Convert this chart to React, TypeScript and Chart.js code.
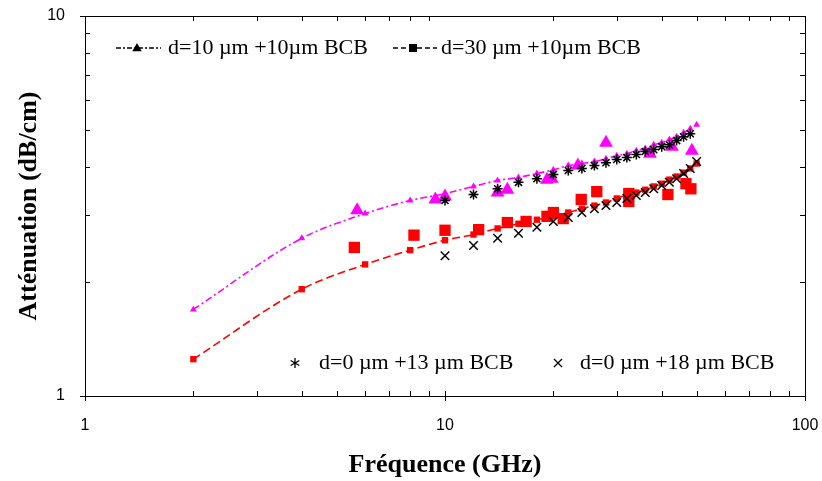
import React, { useEffect, useRef } from 'react';
import { Chart, registerables } from 'chart.js';

Chart.register(...registerables);

// ---- Data ----
const modelFreq = [2, 4, 6, 8, 10, 12, 14, 16, 18, 20, 22, 24, 26, 28, 30, 32, 34, 36, 38, 40, 42, 44, 46, 48, 50];
const model10um = [1.69, 2.60, 3.02, 3.27, 3.41, 3.56, 3.69, 3.76, 3.85, 3.94, 4.04, 4.09, 4.14, 4.21, 4.29, 4.34, 4.42, 4.48, 4.58, 4.64, 4.73, 4.81, 4.93, 5.05, 5.17];
const model30um = [1.25, 1.91, 2.22, 2.42, 2.57, 2.66, 2.76, 2.84, 2.91, 2.97, 3.04, 3.11, 3.17, 3.23, 3.31, 3.39, 3.43, 3.49, 3.56, 3.62, 3.71, 3.78, 3.87, 3.97, 4.09];

const meas10Freq = [5.7, 9.4, 10, 14.0, 14.9, 19.2, 19.8, 23.4, 28.0, 37.1, 42.7, 48.5];
const meas10Vals = [3.08, 3.29, 3.35, 3.43, 3.49, 3.71, 3.73, 4.04, 4.64, 4.34, 4.53, 4.42];

const meas30Freq = [5.6, 8.2, 10, 12.4, 14.9, 16.8, 19.2, 20.0, 21.3, 23.9, 26.4, 32.4, 32.4, 41.6, 46.7, 48.2];
const meas30Vals = [2.46, 2.65, 2.73, 2.74, 2.86, 2.88, 2.97, 3.04, 2.93, 3.29, 3.45, 3.41, 3.25, 3.39, 3.62, 3.51];

const star13Freq = [10, 12, 14, 16, 18, 20, 22, 24, 26, 28, 30, 32, 34, 36, 38, 40, 42, 44, 46, 48];
const star13Vals = [3.27, 3.39, 3.51, 3.65, 3.73, 3.83, 3.92, 3.97, 4.04, 4.11, 4.19, 4.24, 4.32, 4.40, 4.45, 4.53, 4.58, 4.70, 4.81, 4.90];

const cross18Freq = [10, 12, 14, 16, 18, 20, 22, 24, 26, 28, 30, 32, 34, 36, 38, 40, 42, 44, 46, 48, 50];
const cross18Vals = [2.34, 2.49, 2.60, 2.68, 2.78, 2.88, 2.95, 3.04, 3.11, 3.17, 3.23, 3.31, 3.37, 3.43, 3.51, 3.58, 3.65, 3.73, 3.85, 3.97, 4.14];

const xTickLabels = [1, 10, 100];
const yTickLabels = [1, 10];

const legendTop = ['d=10 \u00b5m +10\u00b5m BCB', 'd=30 \u00b5m +10\u00b5m BCB'];
const legendBottom = ['d=0 \u00b5m +13 \u00b5m BCB', 'd=0 \u00b5m +18 \u00b5m BCB'];

const MAGENTA = '#FF00FF';
const RED = '#FF0000';
const SERIF = '"Liberation Serif", "Times New Roman", serif';
const SANS = '"Liberation Sans", Arial, sans-serif';

const pts = (xs: number[], ys: number[]) => xs.map((x, i) => ({ x, y: ys[i] }));

function drawTri(ctx: CanvasRenderingContext2D, x: number, y: number, r: number) {
  ctx.beginPath();
  ctx.moveTo(x, y - r);
  ctx.lineTo(x + r * 0.95, y + r * 0.65);
  ctx.lineTo(x - r * 0.95, y + r * 0.65);
  ctx.closePath();
  ctx.fill();
}

const zeroPad = (s: any) => {
  s.paddingLeft = 0;
  s.paddingRight = 0;
  s.paddingTop = 0;
  s.paddingBottom = 0;
};

const framePlugin = {
  id: 'frameTicks',
  afterDraw(chart: any) {
    const ctx: CanvasRenderingContext2D = chart.ctx;
    const { left, right, top, bottom } = chart.chartArea;
    const xs = chart.scales.x;
    const ys = chart.scales.y;
    ctx.save();
    ctx.strokeStyle = '#000';
    ctx.lineWidth = 1;
    ctx.setLineDash([]);
    ctx.strokeRect(Math.round(left) + 0.5, Math.round(top) + 0.5, Math.round(right - left), Math.round(bottom - top));
    const minor = 5;
    ctx.beginPath();
    for (let d = 0; d <= 2; d++) {
      for (let m = 1; m <= 9; m++) {
        const v = m * Math.pow(10, d);
        if (v >= 1 && v <= 100) {
          const px = Math.round(xs.getPixelForValue(v)) + 0.5;
          if (m === 1) {
            ctx.moveTo(px, bottom + 5); ctx.lineTo(px, bottom - minor);
          } else {
            ctx.moveTo(px, bottom); ctx.lineTo(px, bottom - minor);
            ctx.moveTo(px, top); ctx.lineTo(px, top + minor);
          }
        }
        if (v >= 1 && v <= 10) {
          const py = Math.round(ys.getPixelForValue(v)) + 0.5;
          if (m === 1) {
            ctx.moveTo(left - 5, py); ctx.lineTo(left + minor, py);
          } else {
            ctx.moveTo(left, py); ctx.lineTo(left + minor, py);
            ctx.moveTo(right, py); ctx.lineTo(right - minor, py);
          }
        }
      }
    }
    ctx.stroke();

    // Legends
    ctx.fillStyle = '#000';
    ctx.strokeStyle = '#000';
    ctx.font = `22px ${SERIF}`;
    ctx.textBaseline = 'middle';
    ctx.textAlign = 'left';
    const ly = top + 32;
    // entry 1: dash-dot line with triangle
    ctx.lineWidth = 1.5;
    ctx.setLineDash([5, 2, 2, 2]);
    ctx.beginPath();
    ctx.moveTo(left + 31, ly); ctx.lineTo(left + 76, ly);
    ctx.stroke();
    ctx.setLineDash([]);
    drawTri(ctx, left + 52, ly, 5);
    ctx.fillText(legendTop[0], left + 83, ly);
    // entry 2: dashed line with square
    ctx.setLineDash([5, 3]);
    ctx.beginPath();
    ctx.moveTo(left + 308, ly); ctx.lineTo(left + 352, ly);
    ctx.stroke();
    ctx.setLineDash([]);
    ctx.fillRect(left + 328 - 4, ly - 4, 8, 8);
    ctx.fillText(legendTop[1], left + 356, ly);
    // bottom legends
    const by = bottom - 33;
    ctx.lineWidth = 1.3;
    ctx.beginPath();
    const sx = left + 210;
    for (let k = 0; k < 3; k++) {
      const a = Math.PI / 2 + (k * Math.PI) / 3;
      ctx.moveTo(sx + Math.cos(a) * 5, by - Math.sin(a) * 5);
      ctx.lineTo(sx - Math.cos(a) * 5, by + Math.sin(a) * 5);
    }
    ctx.stroke();
    ctx.fillText(legendBottom[0], left + 234, by);
    const cx = left + 473;
    ctx.beginPath();
    ctx.moveTo(cx - 4, by - 4); ctx.lineTo(cx + 4, by + 4);
    ctx.moveTo(cx + 4, by - 4); ctx.lineTo(cx - 4, by + 4);
    ctx.stroke();
    ctx.fillText(legendBottom[1], left + 495, by);
    ctx.restore();
  },
};

export default function App() {
  const ref = useRef<HTMLCanvasElement | null>(null);
  useEffect(() => {
    if (!ref.current) return;
    const chart = new Chart(ref.current, {
      type: 'line',
      data: {
        datasets: [
          {
            label: 'd=0 µm +18 µm BCB',
            data: pts(cross18Freq, cross18Vals),
            showLine: false,
            pointStyle: 'crossRot',
            pointRadius: 6,
            borderColor: '#000',
            backgroundColor: '#000',
            pointBorderWidth: 1.5,
          },
          {
            label: 'd=0 µm +13 µm BCB',
            data: pts(star13Freq, star13Vals),
            showLine: false,
            pointStyle: 'star',
            pointRadius: 5,
            borderColor: '#000',
            backgroundColor: '#000',
            pointBorderWidth: 1.5,
          },
          {
            label: 'meas d=10',
            data: pts(meas10Freq, meas10Vals),
            showLine: false,
            pointStyle: 'triangle',
            pointRadius: 8,
            borderColor: MAGENTA,
            backgroundColor: MAGENTA,
            pointBorderWidth: 0,
          },
          {
            label: 'meas d=30',
            data: pts(meas30Freq, meas30Vals),
            showLine: false,
            pointStyle: 'rect',
            pointRadius: 8,
            borderColor: RED,
            backgroundColor: RED,
            pointBorderWidth: 0,
          },
          {
            label: legendTop[0],
            data: pts(modelFreq, model10um),
            borderColor: MAGENTA,
            backgroundColor: MAGENTA,
            borderWidth: 1.6,
            borderDash: [7, 3, 2, 3],
            cubicInterpolationMode: 'monotone',
            pointStyle: 'triangle',
            pointRadius: 4,
            pointBorderWidth: 0,
          },
          {
            label: legendTop[1],
            data: pts(modelFreq, model30um),
            borderColor: RED,
            backgroundColor: RED,
            borderWidth: 1.6,
            borderDash: [8, 4],
            cubicInterpolationMode: 'monotone',
            pointStyle: 'rect',
            pointRadius: 4.5,
            pointBorderWidth: 0,
          },
        ],
      },
      options: {
        animation: false,
        responsive: false,
        devicePixelRatio: 1,
        layout: { padding: { left: 0, right: 17, top: 16, bottom: 0 } },
        plugins: { legend: { display: false }, tooltip: { enabled: false } },
        scales: {
          x: {
            type: 'logarithmic',
            min: 1,
            max: 100,
            afterBuildTicks: (s: any) => { s.ticks = xTickLabels.map((v) => ({ value: v })); },
            afterFit: (s: any) => { s.height = 85; zeroPad(s); },
            grid: { display: false },
            border: { display: false },
            ticks: {
              color: '#000',
              font: { family: SANS, size: 16 },
              padding: 12,
              maxRotation: 0,
              callback: (v: any) => String(v),
            },
            title: {
              display: true,
              text: 'Fréquence (GHz)',
              color: '#000',
              font: { family: SERIF, size: 26, weight: 'bold' },
              padding: { top: 0, bottom: 0 },
            },
          },
          y: {
            type: 'logarithmic',
            min: 1,
            max: 10,
            afterBuildTicks: (s: any) => { s.ticks = yTickLabels.map((v) => ({ value: v })); },
            afterFit: (s: any) => { s.width = 85; zeroPad(s); },
            grid: { display: false },
            border: { display: false },
            ticks: {
              color: '#000',
              font: { family: SANS, size: 16 },
              padding: 12,
              callback: (v: any) => String(v),
            },
            title: {
              display: true,
              text: 'Atténuation (dB/cm)',
              color: '#000',
              font: { family: SERIF, size: 26, weight: 'bold' },
              padding: { top: 14, bottom: 0 },
            },
          },
        },
      } as any,
      plugins: [framePlugin],
    });
    return () => chart.destroy();
  }, []);
  return (
    <div style={{ position: 'absolute', left: 0, top: 0, width: 822, height: 481, background: '#fff' }}>
      <canvas ref={ref} width={822} height={481} style={{ display: 'block' }} />
    </div>
  );
}
